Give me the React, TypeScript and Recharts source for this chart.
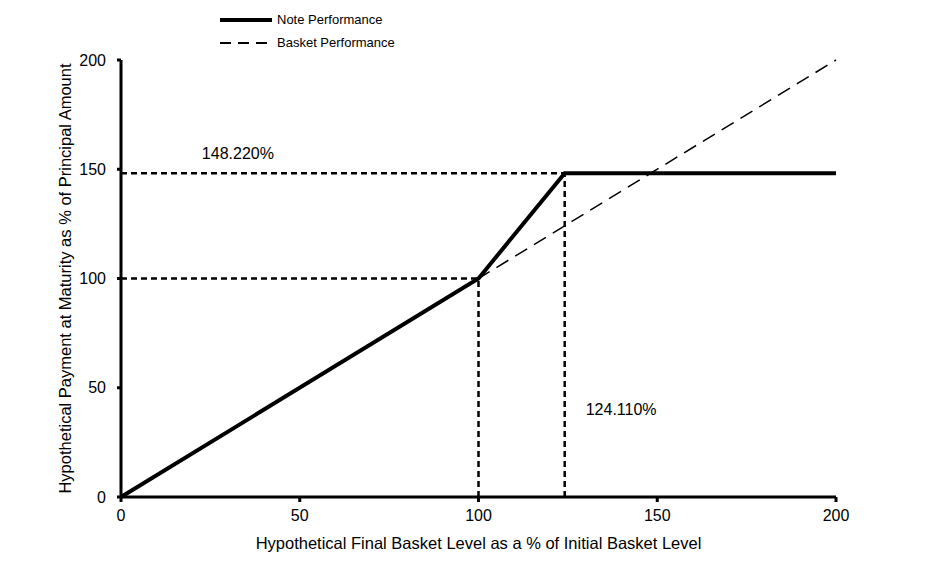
import { LineChart, Line, XAxis, YAxis, ReferenceLine, ReferenceDot } from 'recharts';

// Note payoff: 1:1 up to 100, leveraged to the cap, then flat
const noteX = [0, 100, 124.11, 200];
const noteY = [0, 100, 148.22, 148.22];

// Basket performance is simply 1:1
const basketX = [0, 200];
const basketY = [0, 200];

const xTicks = [0, 50, 100, 150, 200];
const yTicks = [0, 50, 100, 150, 200];

const capLevel = 148.22;
const capBasket = 124.11;
const capLabel = '148.220%';
const capBasketLabel = '124.110%';

const noteData = noteX.map((x, i) => ({ x, y: noteY[i] }));
const basketData = basketX.map((x, i) => ({ x, y: basketY[i] }));

const FONT = '"Liberation Sans", Arial, sans-serif';

function LegendBox() {
  const items = [
    { name: 'Note Performance', width: 4, dash: undefined },
    { name: 'Basket Performance', width: 2, dash: '11 7' },
  ];
  return (
    <div style={{ position: 'absolute', top: 0, left: 211, fontFamily: FONT, fontSize: 13, color: '#000' }}>
      {items.map((it) => (
        <div key={it.name} style={{ display: 'flex', alignItems: 'center', height: 23 }}>
          <svg width={56} height={10}>
            <line x1={1} y1={5} x2={53} y2={5} stroke="#000" strokeWidth={it.width} strokeDasharray={it.dash} />
          </svg>
          <span style={{ marginLeft: 2 }}>{it.name}</span>
        </div>
      ))}
    </div>
  );
}

export default function App() {
  return (
    <div style={{ position: 'relative', width: 937, height: 563 }}>
      <LineChart width={937} height={563} margin={{ top: 52, right: 109, left: 53, bottom: 14 }}>
        <XAxis
          type="number"
          dataKey="x"
          domain={[0, 200]}
          ticks={xTicks}
          axisLine={{ stroke: '#000', strokeWidth: 3 }}
          tickLine={{ stroke: '#000', strokeWidth: 3 }}
          tickSize={5}
          tickMargin={8}
          tick={{ fill: '#000', fontSize: 16, fontFamily: FONT }}
          height={60}
          label={{
            value: 'Hypothetical Final Basket Level as a % of Initial Basket Level',
            position: 'insideBottom',
            offset: 8,
            style: { fill: '#000', fontSize: 16.5, fontFamily: FONT },
          }}
          allowDuplicatedCategory={false}
        />
        <YAxis
          type="number"
          dataKey="y"
          domain={[0, 200]}
          ticks={yTicks}
          axisLine={{ stroke: '#000', strokeWidth: 3 }}
          tickLine={{ stroke: '#000', strokeWidth: 3 }}
          tickSize={4}
          tickMargin={11}
          tick={{ fill: '#000', fontSize: 16, fontFamily: FONT }}
          width={60}
          label={{
            value: 'Hypothetical Payment at Maturity as % of Principal Amount',
            angle: -90,
            position: 'insideLeft',
            offset: 4,
            style: { fill: '#000', fontSize: 16.5, fontFamily: FONT, textAnchor: 'middle' },
          }}
        />
        <ReferenceLine
          segment={[{ x: 0, y: capLevel }, { x: capBasket, y: capLevel }]}
          stroke="#000"
          strokeWidth={2.5}
          strokeDasharray="6 4"
        />
        <ReferenceLine
          segment={[{ x: capBasket, y: 0 }, { x: capBasket, y: capLevel }]}
          stroke="#000"
          strokeWidth={2.5}
          strokeDasharray="6 4"
        />
        <ReferenceLine
          segment={[{ x: 0, y: 100 }, { x: 100, y: 100 }]}
          stroke="#000"
          strokeWidth={2.5}
          strokeDasharray="6 4"
        />
        <ReferenceLine
          segment={[{ x: 100, y: 0 }, { x: 100, y: 100 }]}
          stroke="#000"
          strokeWidth={2.5}
          strokeDasharray="6 4"
        />
        <Line
          data={basketData}
          dataKey="y"
          type="linear"
          stroke="#000"
          strokeWidth={1.5}
          strokeDasharray="14 8"
          dot={false}
          activeDot={false}
          isAnimationActive={false}
          legendType="none"
        />
        <Line
          data={noteData}
          dataKey="y"
          type="linear"
          stroke="#000"
          strokeWidth={4}
          dot={false}
          activeDot={false}
          isAnimationActive={false}
          legendType="none"
        />
        <ReferenceDot
          x={32.7}
          y={157.4}
          r={0}
          fill="none"
          stroke="none"
          label={{ value: capLabel, position: 'center', style: { fill: '#000', fontSize: 16, fontFamily: FONT } }}
        />
        <ReferenceDot
          x={139.9}
          y={40.3}
          r={0}
          fill="none"
          stroke="none"
          label={{ value: capBasketLabel, position: 'center', style: { fill: '#000', fontSize: 16, fontFamily: FONT } }}
        />
      </LineChart>
      <LegendBox />
    </div>
  );
}
